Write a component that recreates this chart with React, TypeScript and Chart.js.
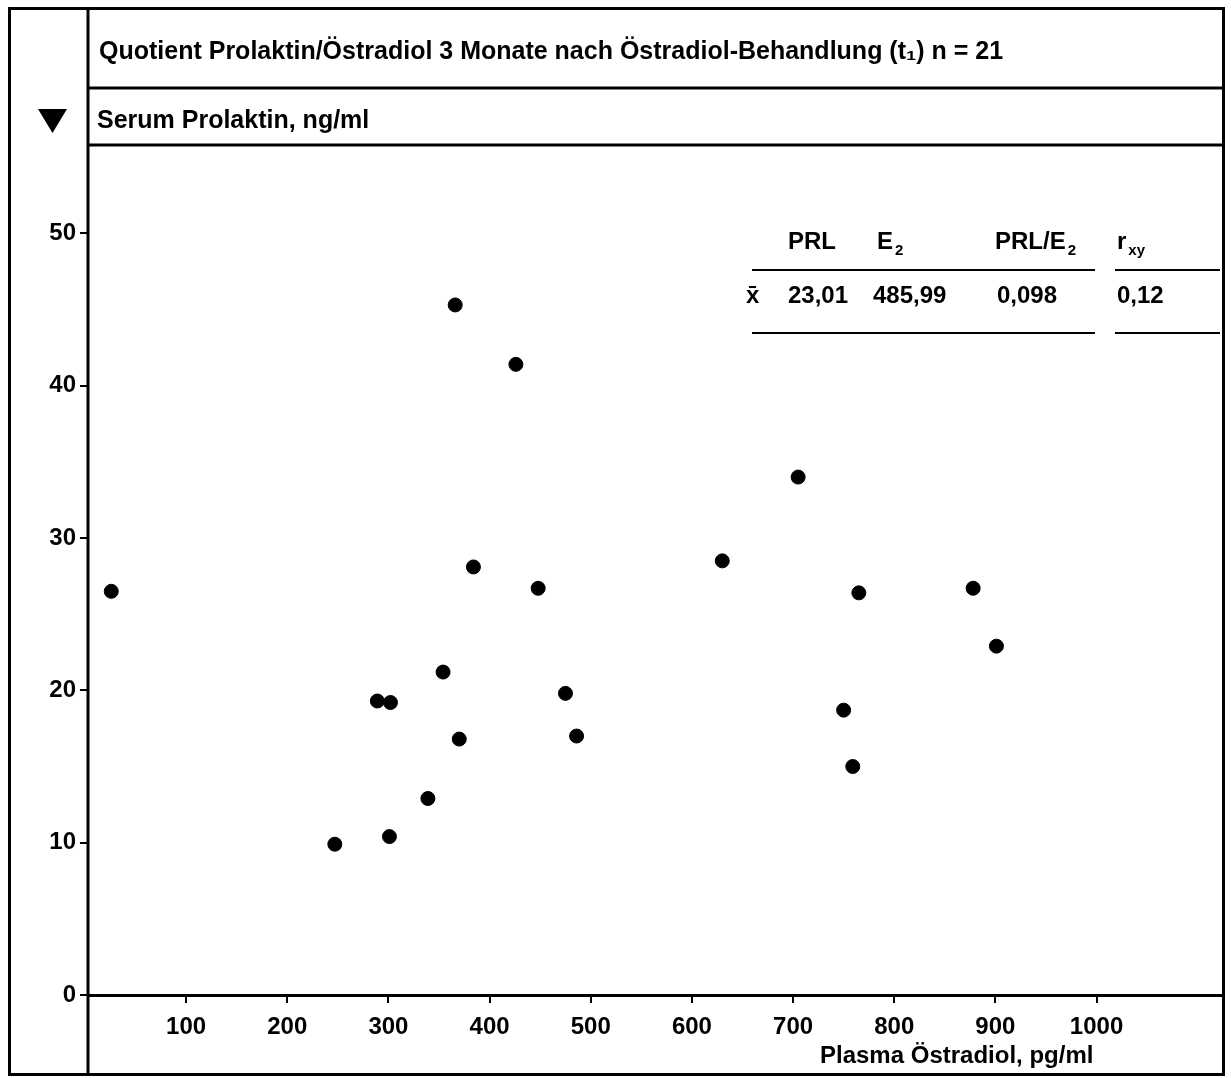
import React, { useEffect, useRef } from "react";
import { Chart, registerables } from "chart.js";
Chart.register(...registerables);

const estradiol = [26, 366, 426, 705, 384, 448, 630, 765, 878, 901, 354, 289, 302, 475, 750, 370, 486, 759, 339, 247, 301];
const prolactin = [26.5, 45.3, 41.4, 34.0, 28.1, 26.7, 28.5, 26.4, 26.7, 22.9, 21.2, 19.3, 19.2, 19.8, 18.7, 16.8, 17.0, 15.0, 12.9, 9.9, 10.4];
const xTicks = [100, 200, 300, 400, 500, 600, 700, 800, 900, 1000];
const yTicks = [0, 10, 20, 30, 40, 50];

const titleText = "Quotient Prolaktin/Östradiol 3 Monate nach Östradiol-Behandlung (t₁) n = 21";
const yAxisTitle = "Serum Prolaktin, ng/ml";
const xAxisTitle = "Plasma Östradiol, pg/ml";
const tableHeaders = ["PRL", "E", "PRL/E", "r"];
const tableHeaderSubs = ["", "2", "2", "xy"];
const tableRowLabel = "x̄";
const tableValues = ["23,01", "485,99", "0,098", "0,12"];

const FONT = "'Liberation Sans', Arial, sans-serif";
const W = 1231;
const H = 1078;

export default function App() {
  const ref = useRef<HTMLCanvasElement | null>(null);
  useEffect(() => {
    document.body.style.margin = "0";
    const canvas = ref.current!;
    const decor = {
      id: "decor",
      afterDraw(chart: any) {
        const ctx = chart.ctx as CanvasRenderingContext2D;
        ctx.save();
        ctx.strokeStyle = "#000";
        ctx.fillStyle = "#000";
        ctx.lineWidth = 3;
        ctx.strokeRect(9.5, 8.5, 1214, 1066);
        ctx.beginPath();
        ctx.moveTo(88, 8);
        ctx.lineTo(88, 1075);
        ctx.moveTo(88, 88);
        ctx.lineTo(1224, 88);
        ctx.moveTo(88, 145);
        ctx.lineTo(1224, 145);
        ctx.stroke();
        // triangle marker
        ctx.beginPath();
        ctx.moveTo(38, 109);
        ctx.lineTo(67, 109);
        ctx.lineTo(52.5, 133);
        ctx.closePath();
        ctx.fill();
        ctx.textBaseline = "middle";
        ctx.textAlign = "left";
        ctx.font = `bold 25px ${FONT}`;
        ctx.fillText(titleText, 99, 52);
        ctx.fillText(yAxisTitle, 97, 121);
        ctx.font = `bold 24px ${FONT}`;
        ctx.fillText(xAxisTitle, 820, 1056);
        // table
        const hx = [788, 877, 995, 1117];
        tableHeaders.forEach((h, i) => {
          ctx.font = `bold 24px ${FONT}`;
          ctx.fillText(h, hx[i], 242);
          const w = ctx.measureText(h).width;
          if (tableHeaderSubs[i]) {
            ctx.font = `bold 15px ${FONT}`;
            ctx.fillText(tableHeaderSubs[i], hx[i] + w + 2, 251);
          }
        });
        ctx.font = `bold 24px ${FONT}`;
        ctx.fillText(tableRowLabel, 746, 296);
        const vx = [788, 873, 997, 1117];
        tableValues.forEach((v, i) => ctx.fillText(v, vx[i], 296));
        ctx.lineWidth = 2;
        ctx.beginPath();
        ctx.moveTo(752, 270);
        ctx.lineTo(1095, 270);
        ctx.moveTo(1115, 270);
        ctx.lineTo(1220, 270);
        ctx.moveTo(752, 333);
        ctx.lineTo(1095, 333);
        ctx.moveTo(1115, 333);
        ctx.lineTo(1220, 333);
        ctx.stroke();
        ctx.restore();
      },
    };
    const chart = new Chart(canvas, {
      type: "scatter",
      data: {
        datasets: [
          {
            data: estradiol.map((x, i) => ({ x, y: prolactin[i] })),
            backgroundColor: "#000",
            borderColor: "#000",
            pointRadius: 7,
            pointHoverRadius: 7,
          },
        ],
      },
      options: {
        animation: false,
        responsive: false,
        devicePixelRatio: 1,
        layout: { padding: { top: 145, right: 7, left: 0, bottom: 0 } },
        plugins: { legend: { display: false }, tooltip: { enabled: false }, title: { display: false } },
        scales: {
          x: {
            type: "linear",
            min: 3,
            max: 1125,
            afterBuildTicks: (s: any) => {
              s.ticks = xTicks.map((v) => ({ value: v }));
            },
            afterFit: (s: any) => {
              s.height = 83;
            },
            grid: { drawOnChartArea: false, drawTicks: true, tickLength: 8, color: "#000", lineWidth: 2 },
            border: { display: true, color: "#000", width: 3 },
            ticks: {
              color: "#000",
              font: { family: FONT, size: 24, weight: "bold" },
              padding: 10,
              maxRotation: 0,
              autoSkip: false,
              callback: (v: any) => String(v),
            },
          },
          y: {
            type: "linear",
            min: 0,
            max: 55.8,
            afterBuildTicks: (s: any) => {
              s.ticks = yTicks.map((v) => ({ value: v }));
            },
            afterFit: (s: any) => {
              s.width = 88;
            },
            grid: { drawOnChartArea: false, drawTicks: true, tickLength: 8, color: "#000", lineWidth: 2 },
            border: { display: false },
            ticks: {
              color: "#000",
              font: { family: FONT, size: 24, weight: "bold" },
              padding: 4,
              autoSkip: false,
              callback: (v: any) => String(v),
            },
          },
        },
      },
      plugins: [decor],
    } as any);
    return () => chart.destroy();
  }, []);
  return <canvas ref={ref} width={W} height={H} style={{ display: "block", width: W, height: H }} />;
}
